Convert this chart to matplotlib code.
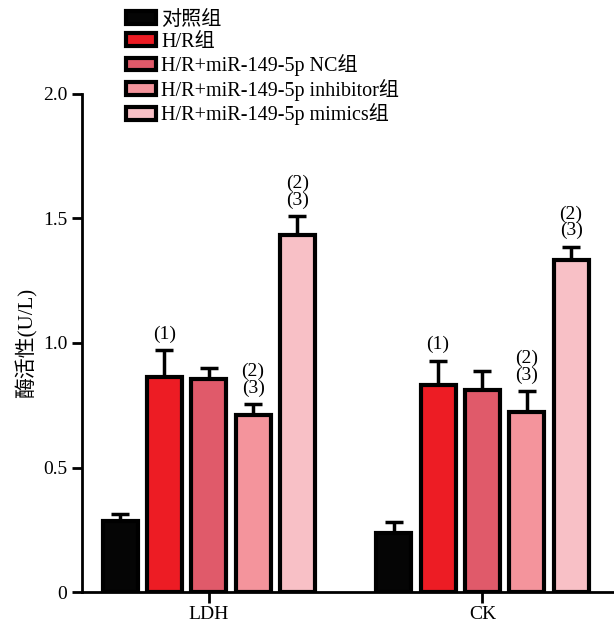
import numpy as np
import matplotlib
matplotlib.use("Agg")
import matplotlib.pyplot as plt
from matplotlib.ticker import FixedLocator, FixedFormatter

plt.rcParams['font.family'] = ['Liberation Serif', 'Noto Sans CJK SC']

categories = ['LDH', 'CK']
groups = ['对照组', 'H/R组', 'H/R+miR-149-5p NC组',
          'H/R+miR-149-5p inhibitor组', 'H/R+miR-149-5p mimics组']
colors = ['#050505', '#ED1C24', '#E05A6A', '#F4949C', '#F8C0C6']

# mean values per group, [LDH, CK]
means = [[0.285, 0.235],
         [0.865, 0.83],
         [0.855, 0.81],
         [0.71, 0.722],
         [1.432, 1.332]]
errs = [[0.028, 0.045],
        [0.105, 0.098],
        [0.045, 0.078],
        [0.045, 0.085],
        [0.078, 0.055]]
marks = [['', ''],
         ['(1)', '(1)'],
         ['', ''],
         ['(2)\n(3)', '(2)\n(3)'],
         ['(2)\n(3)', '(2)\n(3)']]

fig = plt.figure(figsize=(6.14, 6.29), dpi=100)
ax = fig.add_axes([0.1336, 0.0588, 0.866, 0.7918])

x = np.arange(len(categories))
pitch = 0.162
width = 0.128

for i, g in enumerate(groups):
    pos = x + (i - 2) * pitch
    ax.bar(pos, means[i], width=width, color=colors[i], edgecolor='black',
           linewidth=3, label=g, zorder=3)
    ax.errorbar(pos, means[i], yerr=[np.zeros(len(x)), errs[i]], fmt='none',
                ecolor='black', elinewidth=2.5, capsize=6.5, capthick=2.5, zorder=2)
    for j in range(len(x)):
        if marks[i][j]:
            ax.text(pos[j], means[i][j] + errs[i][j] + 0.03, marks[i][j],
                    ha='center', va='bottom', fontsize=14, linespacing=0.95)

ax.set_xlim(-0.463, 1.48)
ax.set_ylim(0, 2.0)
ax.yaxis.set_major_locator(FixedLocator([0, 0.5, 1.0, 1.5, 2.0]))
ax.yaxis.set_major_formatter(FixedFormatter(['0', '0.5', '1.0', '1.5', '2.0']))
ax.set_xticks(x)
ax.set_xticklabels(categories)
ax.tick_params(axis='both', labelsize=14, width=2, length=7, direction='out')
ax.tick_params(axis='x', length=8, pad=2)
ax.spines['top'].set_visible(False)
ax.spines['right'].set_visible(False)
ax.spines['left'].set_linewidth(2)
ax.spines['bottom'].set_linewidth(2)
ax.set_ylabel('酶活性(U/L)', fontsize=15, labelpad=4)

leg = ax.legend(loc='upper left', bbox_to_anchor=(0.068, 1.183), frameon=False,
                fontsize=14.5, handlelength=1.5, handleheight=0.6,
                handletextpad=0.25, labelspacing=0.13, borderaxespad=0)

fig.savefig('out.png', dpi=100)
